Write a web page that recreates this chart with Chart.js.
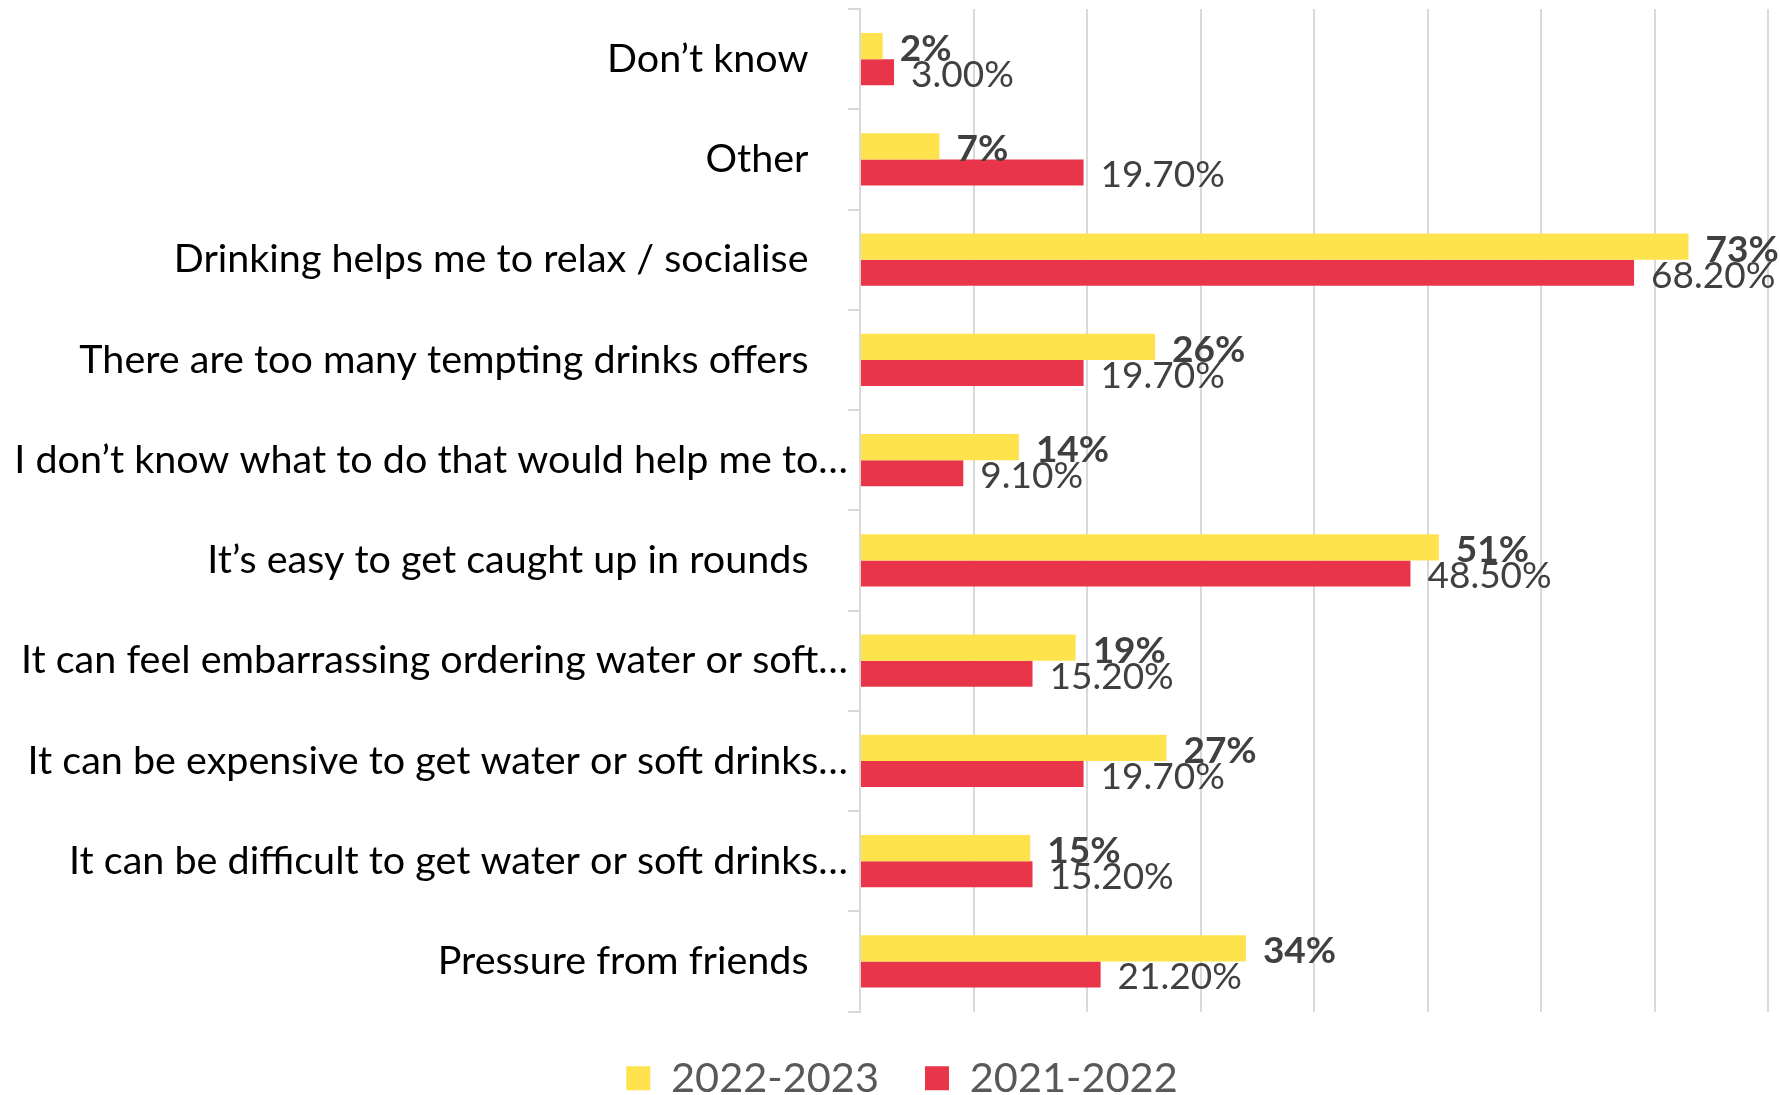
<!DOCTYPE html>
<html>
<head>
<meta charset="utf-8">
<script src="https://cdn.jsdelivr.net/npm/chart.js@4.4.1/dist/chart.umd.min.js"></script>
<style>
    body { margin: 0; background: #ffffff; }
    #chartBox { width: 1780px; height: 1095px; }
</style>
</head>
<body>
<div id="chartBox"><canvas id="reasonsChart" width="1780" height="1095"></canvas></div>
<script>
// Reasons given, top to bottom
const categories = [
    'Don’t know',
    'Other',
    'Drinking helps me to relax / socialise',
    'There are too many tempting drinks offers',
    'I don’t know what to do that would help me to…',
    'It’s easy to get caught up in rounds',
    'It can feel embarrassing ordering water or soft…',
    'It can be expensive to get water or soft drinks…',
    'It can be difficult to get water or soft drinks…',
    'Pressure from friends'
];

const seriesNames = ['2022-2023', '2021-2022'];

// Percentages per year
const values2022_23 = [2, 7, 73, 26, 14, 51, 19, 27, 15, 34];
const values2021_22 = [3.0, 19.7, 68.2, 19.7, 9.1, 48.5, 15.2, 19.7, 15.2, 21.2];

const xTicks = [0, 10, 20, 30, 40, 50, 60, 70, 80];

const FONT = 'Lato, "Open Sans", sans-serif';

// Value labels drawn just past the end of each bar
const barValueLabels = {
    id: 'barValueLabels',
    afterDatasetsDraw(chart) {
        const ctx = chart.ctx;
        ctx.save();
        ctx.textAlign = 'left';
        ctx.textBaseline = 'middle';
        ctx.fillStyle = '#404040';
        chart.data.datasets.forEach((dataset, di) => {
            const meta = chart.getDatasetMeta(di);
            ctx.font = (di === 0 ? 'bold ' : '') + '37px ' + FONT;
            meta.data.forEach((bar, i) => {
                const v = dataset.data[i];
                const text = di === 0 ? v + '%' : v.toFixed(2) + '%';
                ctx.fillText(text, bar.x + 17, bar.y + 3);
            });
        });
        ctx.restore();
    }
};

// Nudge the legend a bit right of the canvas centre
const legendShift = {
    id: 'legendShift',
    afterLayout(chart) {
        if (chart.legend) {
            chart.legend.left += 18;
            chart.legend.right += 18;
        }
    }
};

const ctx = document.getElementById('reasonsChart').getContext('2d');

new Chart(ctx, {
    type: 'bar',
    data: {
        labels: categories,
        datasets: [
            {
                label: seriesNames[0],
                data: values2022_23,
                backgroundColor: '#FFE34D',
                categoryPercentage: 0.52,
                barPercentage: 1.0
            },
            {
                label: seriesNames[1],
                data: values2021_22,
                backgroundColor: '#E8354A',
                categoryPercentage: 0.52,
                barPercentage: 1.0
            }
        ]
    },
    options: {
        indexAxis: 'y',
        responsive: false,
        animation: false,
        devicePixelRatio: 1,
        layout: {
            padding: { top: 9, right: 12, bottom: -14, left: 0 }
        },
        scales: {
            x: {
                min: xTicks[0],
                max: xTicks[xTicks.length - 1],
                afterBuildTicks: (scale) => {
                    scale.ticks = xTicks.map(v => ({ value: v }));
                },
                afterFit: (scale) => { scale.height = 0; },
                ticks: { display: false },
                border: { display: false },
                grid: {
                    color: '#D9D9D9',
                    lineWidth: 2,
                    drawTicks: false
                }
            },
            y: {
                afterFit: (scale) => {
                    scale.width = 860;
                    scale.paddingTop = 0;
                    scale.paddingBottom = 0;
                },
                border: { color: '#D9D9D9', width: 2 },
                grid: {
                    drawOnChartArea: false,
                    color: '#D9D9D9',
                    lineWidth: 2,
                    tickLength: 12
                },
                ticks: {
                    autoSkip: false,
                    padding: 0,
                    color: '#000000',
                    font: { family: FONT, size: 39.5 },
                    // untruncated labels sit a little further from the axis
                    callback: function (value) {
                        const label = this.getLabelForValue(value);
                        return label.endsWith('…') ? label : label + '\u2003\u2005';
                    }
                }
            }
        },
        plugins: {
            legend: {
                position: 'bottom',
                labels: {
                    boxWidth: 24,
                    boxHeight: 24,
                    padding: 46,
                    color: '#595959',
                    font: { family: FONT, size: 41.5 }
                }
            },
            tooltip: { enabled: false }
        }
    },
    plugins: [barValueLabels, legendShift]
});
</script>
</body>
</html>
